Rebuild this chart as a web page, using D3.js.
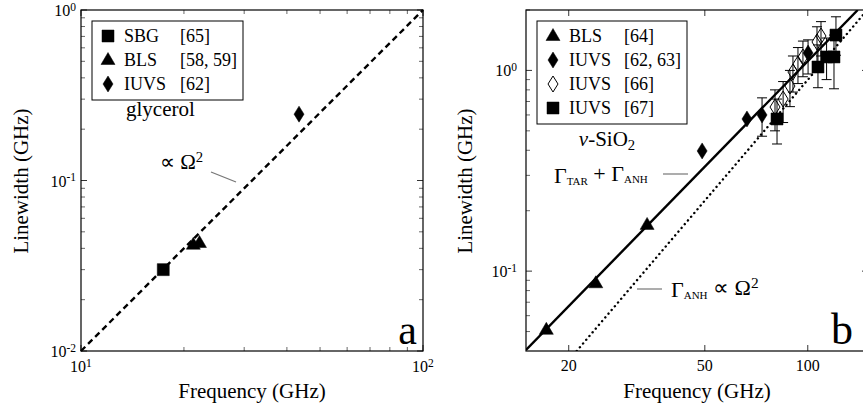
<!DOCTYPE html>
<html>
<head>
<meta charset="utf-8">
<script src="https://cdn.jsdelivr.net/npm/d3@7"></script>
<style>
  body { margin: 0; background: #fff; }
</style>
</head>
<body>
<div id="chart"></div>
<script>
// ---- panel a : glycerol ----
const aSbgFreq = [17.4];
const aSbgWidth = [0.030];
const aBlsFreq = [21.3, 22.2];
const aBlsWidth = [0.042, 0.043];
const aIuvsFreq = [43.4];
const aIuvsWidth = [0.245];
const aFitFreq = [10, 100];          // dashed  ∝ Ω²
const aFitWidth = [0.01, 1];
const aLegend = [["square", "SBG", "[65]"], ["triangle", "BLS", "[58, 59]"], ["diamond", "IUVS", "[62]"]];

// ---- panel b : v-SiO2 ----
const bBlsFreq = [17.2, 24.0, 33.9];
const bBlsWidth = [0.051, 0.087, 0.170];

const bIuvsFreq = [49.1, 66.4, 73.5, 100.2];       // filled diamonds [62, 63]
const bIuvsWidth = [0.397, 0.573, 0.600, 1.22];
const bIuvsLow = [null, null, 0.47, 0.96];
const bIuvsHigh = [null, null, 0.73, 1.42];

const bOpenFreq = [80.2, 84.7, 88.7, 90.5, 93.6, 96.8, 106.4, 109.3];   // open diamonds [66]
const bOpenWidth = [0.657, 0.720, 0.836, 0.982, 1.077, 1.166, 1.386, 1.484];
const bOpenLow = [0.50, 0.55, 0.66, 0.78, 0.86, 0.93, 1.10, 1.18];
const bOpenHigh = [0.80, 0.88, 1.00, 1.18, 1.30, 1.40, 1.65, 1.75];

const bSqFreq = [81.3, 107.1, 113.5, 119.3, 120.9];    // filled squares [67]
const bSqWidth = [0.573, 1.04, 1.167, 1.167, 1.50];
const bSqLow = [0.43, 0.82, 0.90, 0.81, 1.19];
const bSqHigh = [0.72, 1.34, 1.45, 1.50, 1.85];

const bTotalFreq = [15, 140];        // solid  Γ_TAR + Γ_ANH
const bTotalWidth = [0.0405, 2.0];
const bAnhFreq = [21.1, 150];        // dotted Γ_ANH ∝ Ω²
const bAnhWidth = [0.04, 2.02];
const bLegend = [["triangle", "BLS", "[64]"], ["diamond", "IUVS", "[62, 63]"], ["open", "IUVS", "[66]"], ["square", "IUVS", "[67]"]];

const bXTicks = [20, 50, 100];

const svg = d3.select("#chart").append("svg")
  .attr("width", 863)
  .attr("height", 410)
  .attr("font-family", "Liberation Serif");

// marker paths centred on 0,0
function markerPath(kind) {
  if (kind == "square") return "M-6,-6H6V6H-6Z";
  if (kind == "triangle") return "M0,-7.5L7,4.5L-7,4.5Z";
  return "M0,-8L5,0L0,8L-5,0Z"; // diamond / open diamond
}

function drawMarkers(g, x, y, fx, fy, kind) {
  g.selectAll(null)
    .data(fx.map((f, i) => ({ f: f, w: fy[i] })))
    .join("path")
    .attr("d", markerPath(kind))
    .attr("transform", d => `translate(${x(d.f)},${y(d.w)})`)
    .attr("fill", kind == "open" ? "none" : "#000")
    .attr("stroke", "#000")
    .attr("stroke-width", kind == "open" ? 1 : 0.5);
}

function drawErrors(g, x, y, fx, lo, hi) {
  const d = fx.map((f, i) => ({ f: f, lo: lo[i], hi: hi[i] })).filter(e => e.lo != null);
  const e = g.selectAll(null).data(d).join("g").attr("stroke", "#000").attr("stroke-width", 1);
  e.append("line").attr("x1", v => x(v.f)).attr("x2", v => x(v.f)).attr("y1", v => y(v.lo)).attr("y2", v => y(v.hi));
  e.append("line").attr("x1", v => x(v.f) - 5).attr("x2", v => x(v.f) + 5).attr("y1", v => y(v.lo)).attr("y2", v => y(v.lo));
  e.append("line").attr("x1", v => x(v.f) - 5).attr("x2", v => x(v.f) + 5).attr("y1", v => y(v.hi)).attr("y2", v => y(v.hi));
}

function drawLine(g, x, y, fx, fy, style) {
  const line = d3.line().x(d => x(d[0])).y(d => y(d[1]));
  const p = g.append("path")
    .attr("d", line(fx.map((f, i) => [f, fy[i]])))
    .attr("fill", "none")
    .attr("stroke", "#000");
  if (style == "dashed") p.attr("stroke-width", 2.4).attr("stroke-dasharray", "6 4");
  if (style == "dotted") p.attr("stroke-width", 2.4).attr("stroke-linecap", "round").attr("stroke-dasharray", "0.1 4.8");
  if (style == "solid") p.attr("stroke-width", 2.4);
}

// label like 10^-1 with a superscript
function powLabel(sel, exp) {
  sel.append("tspan").text("10");
  sel.append("tspan").attr("dy", "-0.45em").attr("font-size", "0.72em").text(exp);
}

function ticks(g, x, y, xMajor, xMinor, yMajor, yMinor) {
  const [x0, x1] = x.range(), [y1, y0] = y.range();
  const t = g.append("g").attr("stroke", "#000");
  xMajor.forEach(v => {
    t.append("line").attr("x1", x(v)).attr("x2", x(v)).attr("y1", y1).attr("y2", y1 - 6).attr("stroke-width", 0.8);
    t.append("line").attr("x1", x(v)).attr("x2", x(v)).attr("y1", y0).attr("y2", y0 + 6).attr("stroke-width", 0.8);
  });
  xMinor.forEach(v => {
    t.append("line").attr("x1", x(v)).attr("x2", x(v)).attr("y1", y1).attr("y2", y1 - 4).attr("stroke-width", 0.6);
    t.append("line").attr("x1", x(v)).attr("x2", x(v)).attr("y1", y0).attr("y2", y0 + 4).attr("stroke-width", 0.6);
  });
  yMajor.forEach(v => {
    t.append("line").attr("x1", x0).attr("x2", x0 + 6).attr("y1", y(v)).attr("y2", y(v)).attr("stroke-width", 0.8);
    t.append("line").attr("x1", x1).attr("x2", x1 - 6).attr("y1", y(v)).attr("y2", y(v)).attr("stroke-width", 0.8);
  });
  yMinor.forEach(v => {
    t.append("line").attr("x1", x0).attr("x2", x0 + 4).attr("y1", y(v)).attr("y2", y(v)).attr("stroke-width", 0.6);
    t.append("line").attr("x1", x1).attr("x2", x1 - 4).attr("y1", y(v)).attr("y2", y(v)).attr("stroke-width", 0.6);
  });
}

function legend(g, items, x, y, w, h, refX) {
  g.append("rect").attr("x", x).attr("y", y).attr("width", w).attr("height", h)
    .attr("fill", "#fff").attr("stroke", "#000").attr("stroke-width", 1);
  items.forEach((it, i) => {
    const cy = y + 15 + i * 24;
    g.append("path").attr("d", markerPath(it[0]))
      .attr("transform", `translate(${x + 16},${cy})`)
      .attr("fill", it[0] == "open" ? "#fff" : "#000")
      .attr("stroke", "#000").attr("stroke-width", it[0] == "open" ? 1 : 0.5);
    g.append("text").attr("x", x + 32).attr("y", cy + 6).attr("font-size", 18).text(it[1]);
    g.append("text").attr("x", x + refX).attr("y", cy + 6).attr("font-size", 18).text(it[2]);
  });
}

// ================= panel a =================
const xA = d3.scaleLog().domain([10, 100]).range([81, 423]);
const yA = d3.scaleLog().domain([0.01, 1]).range([351, 10]);
const gA = svg.append("g");

ticks(gA, xA, yA, [10, 100], d3.range(20, 100, 10),
  [0.01, 0.1, 1], d3.range(2, 10).map(v => v / 100).concat(d3.range(2, 10).map(v => v / 10)));

drawLine(gA, xA, yA, aFitFreq, aFitWidth, "dashed");
drawMarkers(gA, xA, yA, aSbgFreq, aSbgWidth, "square");
drawMarkers(gA, xA, yA, aBlsFreq, aBlsWidth, "triangle");
drawMarkers(gA, xA, yA, aIuvsFreq, aIuvsWidth, "diamond");

gA.append("rect").attr("x", 81).attr("y", 10).attr("width", 342).attr("height", 341)
  .attr("fill", "none").attr("stroke", "#000").attr("stroke-width", 1.2);

legend(gA, aLegend, 92, 21, 151, 79, 88);

gA.append("text").attr("x", 126).attr("y", 116).attr("font-size", 21).text("glycerol");
const propA = gA.append("text").attr("x", 160).attr("y", 169).attr("font-size", 21);
propA.append("tspan").text("\u221D \u03A9");
propA.append("tspan").attr("dy", "-0.45em").attr("font-size", "0.7em").text("2");
gA.append("line").attr("x1", 211).attr("y1", 172).attr("x2", 236).attr("y2", 182)
  .attr("stroke", "#777").attr("stroke-width", 1.2);
gA.append("text").attr("x", 417).attr("y", 344).attr("text-anchor", "end").attr("font-size", 42).text("a");

// tick labels a
[[10, "1"], [100, "2"]].forEach(d => {
  powLabel(gA.append("text").attr("x", xA(d[0])).attr("y", 372).attr("text-anchor", "middle").attr("font-size", 16), d[1]);
});
[[1, "0"], [0.1, "-1"], [0.01, "-2"]].forEach(d => {
  powLabel(gA.append("text").attr("x", 76).attr("y", yA(d[0]) + 6).attr("text-anchor", "end").attr("font-size", 16), d[1]);
});
gA.append("text").attr("x", 252).attr("y", 398).attr("text-anchor", "middle").attr("font-size", 21).text("Frequency (GHz)");
gA.append("text").attr("transform", "translate(28,181) rotate(-90)").attr("text-anchor", "middle")
  .attr("font-size", 21).text("Linewidth (GHz)");

// ================= panel b =================
const xB = d3.scaleLog().domain([15, 150]).range([526, 868]);
const yB = d3.scaleLog().domain([0.04, 2]).range([351, 10]);
const gB = svg.append("g");

gB.append("clipPath").attr("id", "clipB").append("rect")
  .attr("x", 526).attr("y", 10).attr("width", 342).attr("height", 341);

ticks(gB, xB, yB, bXTicks, [],
  [0.1, 1], d3.range(5, 10).map(v => v / 100).concat(d3.range(2, 10).map(v => v / 10), [2]));

const plotB = gB.append("g").attr("clip-path", "url(#clipB)");
drawLine(plotB, xB, yB, bTotalFreq, bTotalWidth, "solid");
drawLine(plotB, xB, yB, bAnhFreq, bAnhWidth, "dotted");
drawErrors(plotB, xB, yB, bOpenFreq, bOpenLow, bOpenHigh);
drawErrors(plotB, xB, yB, bIuvsFreq, bIuvsLow, bIuvsHigh);
drawErrors(plotB, xB, yB, bSqFreq, bSqLow, bSqHigh);
drawMarkers(plotB, xB, yB, bBlsFreq, bBlsWidth, "triangle");
drawMarkers(plotB, xB, yB, bOpenFreq, bOpenWidth, "open");
drawMarkers(plotB, xB, yB, bIuvsFreq, bIuvsWidth, "diamond");
drawMarkers(plotB, xB, yB, bSqFreq, bSqWidth, "square");

gB.append("rect").attr("x", 526).attr("y", 10).attr("width", 342).attr("height", 341)
  .attr("fill", "none").attr("stroke", "#000").attr("stroke-width", 1.2);

legend(gB, bLegend, 537, 21, 150, 103, 87);

const sio = gB.append("text").attr("x", 607).attr("y", 146).attr("text-anchor", "middle").attr("font-size", 21);
sio.append("tspan").attr("font-style", "italic").text("v");
sio.append("tspan").text("-SiO");
sio.append("tspan").attr("dy", "0.25em").attr("font-size", "0.7em").text("2");

const tot = gB.append("text").attr("x", 554).attr("y", 183).attr("font-size", 22);
tot.append("tspan").text("\u0393");
tot.append("tspan").attr("dy", "0.2em").attr("font-size", "0.5em").text("TAR");
tot.append("tspan").attr("dy", "-0.2em").text(" + \u0393");
tot.append("tspan").attr("dy", "0.2em").attr("font-size", "0.5em").text("ANH");
gB.append("line").attr("x1", 663).attr("y1", 174).attr("x2", 688).attr("y2", 174)
  .attr("stroke", "#777").attr("stroke-width", 1.2);

const anh = gB.append("text").attr("x", 671).attr("y", 297).attr("font-size", 22);
anh.append("tspan").text("\u0393");
anh.append("tspan").attr("dy", "0.2em").attr("font-size", "0.5em").text("ANH");
anh.append("tspan").attr("dy", "-0.2em").text(" \u221D \u03A9");
anh.append("tspan").attr("dy", "-0.45em").attr("font-size", "0.7em").text("2");
gB.append("line").attr("x1", 637).attr("y1", 289).attr("x2", 662).attr("y2", 289)
  .attr("stroke", "#777").attr("stroke-width", 1.2);

gB.append("text").attr("x", 853).attr("y", 344).attr("text-anchor", "end").attr("font-size", 44).text("b");

// tick labels b
gB.selectAll(null).data(bXTicks).join("text")
  .attr("x", d => xB(d)).attr("y", 371).attr("text-anchor", "middle").attr("font-size", 16).text(d => d);
[[1, "0"], [0.1, "-1"]].forEach(d => {
  powLabel(gB.append("text").attr("x", 517).attr("y", yB(d[0]) + 6).attr("text-anchor", "end").attr("font-size", 16), d[1]);
});
gB.append("text").attr("x", 697).attr("y", 398).attr("text-anchor", "middle").attr("font-size", 21).text("Frequency (GHz)");
gB.append("text").attr("transform", "translate(472,181) rotate(-90)").attr("text-anchor", "middle")
  .attr("font-size", 21).text("Linewidth (GHz)");
</script>
</body>
</html>
